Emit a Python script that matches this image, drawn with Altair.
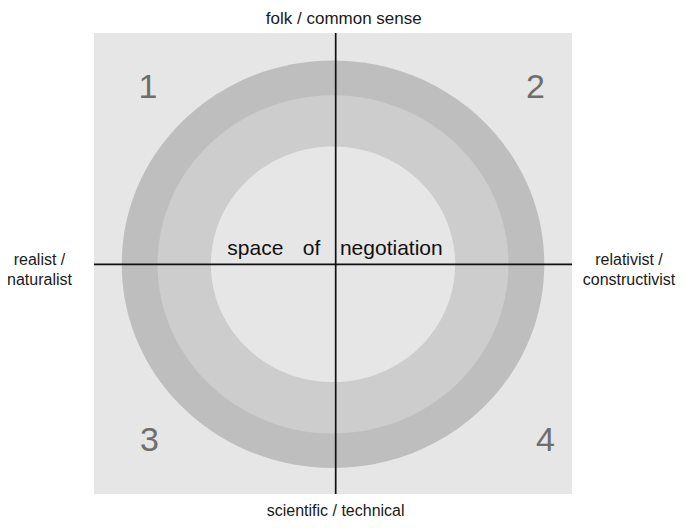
import altair as alt
import pandas as pd

# Concept space: square spans -1..1 on both axes
RING_NAMES = ["outer", "middle", "inner"]
RING_RADIUS = [0.884, 0.734, 0.511]
RING_COLORS = ["#bebebf", "#cdcdcd", "#e6e6e6"]
CENTER = (0.0, -0.0035)

QUADRANT_LABELS = ["1", "2", "3", "4"]
QUADRANT_X = [-0.774, 0.847, -0.768, 0.889]
QUADRANT_Y = [0.718, 0.718, -0.8156, -0.8156]

POLE_LABELS = ["folk / common sense", "scientific / technical", "realist /\nnaturalist", "relativist /\nconstructivist"]
POLE_X = [0.045, 0.011, -1.228, 1.2385]
POLE_Y = [1.0412, -1.0976, -0.0065, -0.0065]
POLE_SIZE = [17, 16, 16, 16]

CENTER_WORDS = ["space", "of", "negotiation"]
CENTER_WORD_X = [-0.325, -0.090, 0.244]
CENTER_WORD_Y = [0.0369, 0.0369, 0.0369]

AXIS_X = 0.0113
AXIS_Y = -0.0035

FONT = "Liberation Sans"

xs = alt.Scale(domain=[-1, 1], range=[86, 564], nice=False, zero=False)
ys = alt.Scale(domain=[-1, 1], range=[486, 25], nice=False, zero=False)

square = alt.Chart(pd.DataFrame({"x": [-1], "x2": [1], "y": [-1], "y2": [1]})).mark_rect(
    color="#e6e6e6"
).encode(
    x=alt.X("x:Q", scale=xs, axis=None),
    x2="x2:Q",
    y=alt.Y("y:Q", scale=ys, axis=None),
    y2="y2:Q",
)

rings_df = pd.DataFrame({
    "ring": RING_NAMES,
    "r": RING_RADIUS,
    "cx": [CENTER[0]] * 3,
    "cy": [CENTER[1]] * 3,
    "idx": [0, 1, 2],
})
ratio = 230.5 / 239.0
ellipse = f"M-1,0A1,{ratio:.4f},0,1,0,1,0A1,{ratio:.4f},0,1,0,-1,0Z"
rings = alt.Chart(rings_df).mark_point(
    shape=ellipse, filled=True, opacity=1, strokeWidth=0
).encode(
    x=alt.X("cx:Q", scale=xs, axis=None),
    y=alt.Y("cy:Q", scale=ys, axis=None),
    size=alt.Size("r:Q", scale=alt.Scale(type="pow", exponent=2, domain=[0, 1], range=[0, 478.0 ** 2]), legend=None),
    color=alt.Color("ring:N", scale=alt.Scale(domain=RING_NAMES, range=RING_COLORS), legend=None),
    order=alt.Order("idx:Q"),
)

vline = alt.Chart(pd.DataFrame({"x": [AXIS_X], "y": [-1], "y2": [1]})).mark_rule(
    color="#111111", strokeWidth=1.7
).encode(
    x=alt.X("x:Q", scale=xs, axis=None),
    y=alt.Y("y:Q", scale=ys, axis=None),
    y2="y2:Q",
)
hline = alt.Chart(pd.DataFrame({"x": [-1], "x2": [1], "y": [AXIS_Y]})).mark_rule(
    color="#111111", strokeWidth=1.7
).encode(
    x=alt.X("x:Q", scale=xs, axis=None),
    x2="x2:Q",
    y=alt.Y("y:Q", scale=ys, axis=None),
)

quads = alt.Chart(pd.DataFrame({"t": QUADRANT_LABELS, "x": QUADRANT_X, "y": QUADRANT_Y})).mark_text(
    font=FONT, fontSize=34, color="#6e6e6e", align="center", baseline="alphabetic"
).encode(
    x=alt.X("x:Q", scale=xs, axis=None),
    y=alt.Y("y:Q", scale=ys, axis=None),
    text="t:N",
)

poles = alt.Chart(pd.DataFrame({"t": POLE_LABELS, "x": POLE_X, "y": POLE_Y, "s": POLE_SIZE})).mark_text(
    font=FONT, color="#1a1a1a", align="center", baseline="alphabetic",
    lineBreak="\n", lineHeight=20
).encode(
    x=alt.X("x:Q", scale=xs, axis=None),
    y=alt.Y("y:Q", scale=ys, axis=None),
    size=alt.Size("s:Q", scale=None, legend=None),
    text="t:N",
)

words = alt.Chart(pd.DataFrame({"t": CENTER_WORDS, "x": CENTER_WORD_X, "y": CENTER_WORD_Y})).mark_text(
    font=FONT, fontSize=21, color="#111111", align="center", baseline="alphabetic"
).encode(
    x=alt.X("x:Q", scale=xs, axis=None),
    y=alt.Y("y:Q", scale=ys, axis=None),
    text="t:N",
)

chart = alt.layer(square, rings, vline, hline, quads, poles, words).resolve_scale(size="independent").properties(
    width=670, height=512, autosize=alt.AutoSizeParams(type="none"), padding=0
).configure_view(stroke=None)

chart.save("out.html", embed_options={"renderer": "svg", "actions": False})
